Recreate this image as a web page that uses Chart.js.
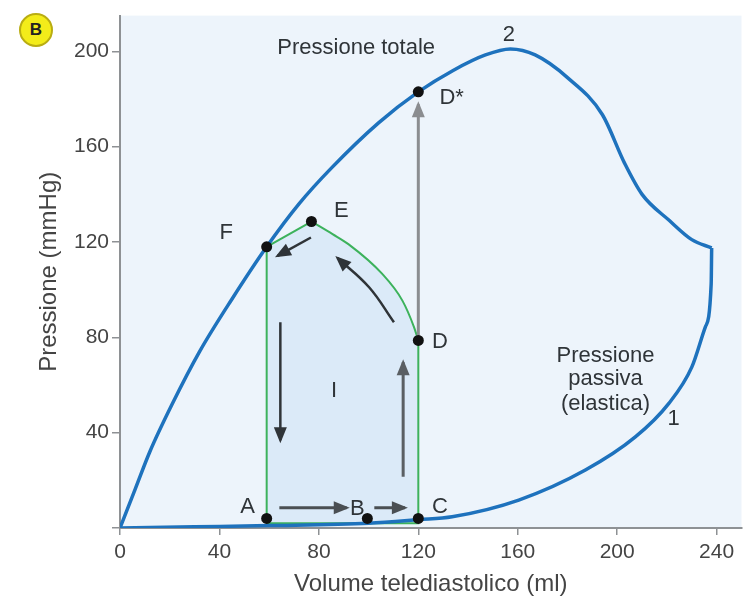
<!DOCTYPE html>
<html lang="it">
<head>
    <meta charset="UTF-8">
    <title>Pressione - volume telediastolico</title>
    <script src="https://cdn.jsdelivr.net/npm/chart.js"></script>
    <style>
        html, body { margin: 0; padding: 0; background: #fff; }
        #wrap { position: relative; width: 747px; height: 599px; }
        #badge {
            position: absolute; left: 19px; top: 13px; width: 34px; height: 34px;
            border-radius: 50%; background: #f3ec1a; border: 2px solid #b9ad12;
            box-sizing: border-box; font: bold 17px "Liberation Sans", Arial, sans-serif;
            color: #222; text-align: center; line-height: 30px;
        }
    </style>
</head>
<body>
    <div id="wrap">
        <canvas id="pvChart" width="747" height="599"></canvas>
        <div id="badge">B</div>
    </div>
    <script>
        // Curva 2: pressione totale (ml, mmHg)
        const totalVol   = [0, 6, 12, 21, 32, 45, 59, 72, 85, 104, 120, 134, 147, 157, 167, 180, 194, 203, 210, 221, 230, 238];
        const totalPress = [0, 16, 32, 52, 74, 96, 118, 136, 151, 170, 183, 192, 198.5, 201, 198.5, 189, 173.5, 153, 140, 129, 121, 117.5];

        // Curva 1: pressione passiva (elastica)
        const passiveVol   = [0, 30, 60, 100, 120, 133.6, 160.4, 187.2, 207.3, 220.7, 230, 235.4, 237.8, 238];
        const passivePress = [0, 0.5, 1, 2, 3.5, 4.7, 11.7, 24.3, 38.2, 52.2, 67.5, 84.2, 102.4, 117.5];

        // Ciclo: tratti rettilinei D-C-A-F-E e curva E-D
        const loopVol   = [120, 120, 59, 59, 77];
        const loopPress = [78.7, 2, 2, 118, 128.6];
        const curveVol   = [77, 85.5, 92, 105.5, 113.6, 118.3, 120];
        const curvePress = [128.6, 123.3, 119, 106.6, 95.4, 84.2, 78.7];

        // Punti marcati
        const markerNames = ['A', 'B', 'C', 'D', 'E', 'F', 'D*'];
        const markerVol   = [59, 99.5, 120, 120, 77, 59, 120];
        const markerPress = [4, 4, 4, 78.7, 128.6, 118, 183];

        // Frecce (inizio -> punta)
        const arrowEF   = { vol: [76.8, 63.4], press: [121.9, 114.2] };
        const arrowDE   = { vol: [110.2, 100.2, 87.5], press: [86.3, 101, 113.3] };
        const arrowDown = { vol: [64.5, 64.5], press: [86.3, 36.8] };
        const arrowUp   = { vol: [113.9, 113.9], press: [21.5, 69.6] };
        const arrowAB   = { vol: [64.1, 91.2], press: [8.5, 8.5] };
        const arrowBC   = { vol: [102.3, 114.6], press: [8.5, 8.5] };
        const arrowDDs  = { vol: [120, 120], press: [78.7, 177.8] };

        // Testi
        const noteText  = ['Pressione totale', '2', '1', 'Pressione', 'passiva', '(elastica)', 'I',
                           'A', 'B', 'C', 'D', 'E', 'F', 'D*'];
        const noteVol   = [95, 156.4, 222.7, 195.3, 195.3, 195.3, 86.1,
                           51.3, 95.5, 125.5, 125.5, 86.1, 42.7, 128.5];
        const notePress = [201.3, 207, 45.9, 72.4, 62.6, 52.2, 57.7,
                           8.9, 8.2, 8.9, 78, 133, 124, 180.5];
        const noteAlign = ['center', 'center', 'center', 'center', 'center', 'center', 'center',
                           'center', 'center', 'left', 'left', 'left', 'center', 'left'];

        const xy = (xs, ys) => xs.map((x, i) => ({ x, y: ys[i] }));

        const fontFamily = '"Liberation Sans", Arial, sans-serif';
        const blue = '#1e72bd';
        const green = '#3db25c';
        const ink = '#2f3438';

        function arrowSet(a, color, width, tension) {
            return {
                data: xy(a.vol, a.press),
                showLine: true,
                borderColor: color,
                borderWidth: width,
                pointRadius: 0,
                tension: tension || 0,
                arrow: true,
                headColor: color,
            };
        }

        function curveSet(xs, ys, color, width) {
            return {
                data: xy(xs, ys),
                showLine: true,
                borderColor: color,
                borderWidth: width,
                pointRadius: 0,
                cubicInterpolationMode: 'monotone',
            };
        }

        const plotBg = {
            id: 'plotBg',
            beforeDraw(chart) {
                const { ctx, chartArea: a } = chart;
                ctx.save();
                ctx.fillStyle = '#edf4fb';
                ctx.fillRect(a.left, a.top, a.right - a.left, a.bottom - a.top);
                ctx.restore();
            }
        };

        // riempimento del ciclo: tratti rettilinei + curva E-D
        const loopFill = {
            id: 'loopFill',
            beforeDatasetsDraw(chart) {
                const { ctx, scales } = chart;
                const px = (v) => scales.x.getPixelForValue(v);
                const py = (v) => scales.y.getPixelForValue(v);
                const curveMeta = chart.getDatasetMeta(chart.data.datasets.findIndex(d => d.id === 'curveED'));
                ctx.save();
                ctx.fillStyle = '#dbeaf8';
                ctx.beginPath();
                loopVol.forEach((v, i) => {
                    if (i === 0) ctx.moveTo(px(v), py(loopPress[i]));
                    else ctx.lineTo(px(v), py(loopPress[i]));
                });
                curveMeta.data.forEach((p) => ctx.lineTo(p.x, p.y));
                ctx.closePath();
                ctx.fill();
                ctx.restore();
            }
        };

        const arrowHeads = {
            id: 'arrowHeads',
            afterDatasetsDraw(chart) {
                const ctx = chart.ctx;
                chart.data.datasets.forEach((ds, i) => {
                    if (!ds.arrow) return;
                    const pts = chart.getDatasetMeta(i).data;
                    const tip = pts[pts.length - 1];
                    const prev = pts[pts.length - 2];
                    let fx = prev.x, fy = prev.y;
                    if (ds.tension && tip.cp1x !== undefined) { fx = tip.cp1x; fy = tip.cp1y; }
                    const ang = Math.atan2(tip.y - fy, tip.x - fx);
                    ctx.save();
                    ctx.translate(tip.x, tip.y);
                    ctx.rotate(ang);
                    ctx.fillStyle = ds.headColor;
                    ctx.beginPath();
                    ctx.moveTo(3, 0);
                    ctx.lineTo(-13, -6.5);
                    ctx.lineTo(-13, 6.5);
                    ctx.closePath();
                    ctx.fill();
                    ctx.restore();
                });
            }
        };

        const notes = {
            id: 'notes',
            afterDatasetsDraw(chart) {
                const { ctx, scales } = chart;
                ctx.save();
                ctx.fillStyle = ink;
                ctx.font = '22px ' + fontFamily;
                ctx.textBaseline = 'middle';
                noteText.forEach((t, i) => {
                    ctx.textAlign = noteAlign[i];
                    ctx.fillText(t, scales.x.getPixelForValue(noteVol[i]), scales.y.getPixelForValue(notePress[i]));
                });
                ctx.restore();
            }
        };

        const curveED = curveSet(curveVol, curvePress, green, 2);
        curveED.id = 'curveED';

        new Chart(document.getElementById('pvChart'), {
            type: 'scatter',
            data: {
                datasets: [
                    {
                        label: 'Punti',
                        data: xy(markerVol, markerPress),
                        pointRadius: 5.5,
                        pointBackgroundColor: '#111',
                        pointBorderWidth: 0,
                    },
                    arrowSet(arrowEF, ink, 2.5),
                    arrowSet(arrowDE, ink, 2.5, 0.4),
                    arrowSet(arrowDown, ink, 2.5),
                    arrowSet(arrowUp, '#5a5f63', 3),
                    arrowSet(arrowAB, '#4a4f53', 3),
                    arrowSet(arrowBC, '#4a4f53', 3),
                    arrowSet(arrowDDs, '#8b8d90', 3),
                    curveSet(totalVol, totalPress, blue, 3.5),
                    curveSet(passiveVol, passivePress, blue, 3.5),
                    {
                        label: 'Ciclo',
                        data: xy(loopVol, loopPress),
                        showLine: true,
                        borderColor: green,
                        borderWidth: 2,
                        pointRadius: 0,
                        tension: 0,
                    },
                    curveED,
                ],
            },
            options: {
                responsive: false,
                animation: false,
                layout: { padding: { top: 15, right: 2, left: 0, bottom: 0 } },
                plugins: {
                    legend: { display: false },
                    tooltip: { enabled: false },
                },
                scales: {
                    x: {
                        type: 'linear',
                        min: 0,
                        max: 250,
                        afterFit(scale) { scale.height = 71; },
                        ticks: {
                            stepSize: 40,
                            includeBounds: false,
                            padding: 5,
                            color: '#444',
                            font: { family: fontFamily, size: 21 },
                        },
                        grid: { drawOnChartArea: false, tickLength: 7, color: '#8e9194', lineWidth: 1.5 },
                        border: { color: '#8e9194', width: 2 },
                        title: {
                            display: true,
                            text: 'Volume telediastolico (ml)',
                            color: '#444',
                            font: { family: fontFamily, size: 24 },
                            padding: { top: 0, bottom: 0 },
                        },
                    },
                    y: {
                        type: 'linear',
                        min: 0,
                        max: 215,
                        afterFit(scale) { scale.width = 120; },
                        ticks: {
                            stepSize: 40,
                            includeBounds: false,
                            padding: 3,
                            color: '#444',
                            font: { family: fontFamily, size: 21 },
                            callback: (v) => (v === 0 ? '' : v),
                        },
                        grid: { drawOnChartArea: false, tickLength: 8, color: '#8e9194', lineWidth: 1.5 },
                        border: { color: '#8e9194', width: 2 },
                        title: {
                            display: true,
                            text: 'Pressione (mmHg)',
                            color: '#444',
                            font: { family: fontFamily, size: 24 },
                            padding: { top: 35, bottom: 0 },
                        },
                    },
                },
            },
            plugins: [plotBg, loopFill, arrowHeads, notes],
        });
    </script>
</body>
</html>
